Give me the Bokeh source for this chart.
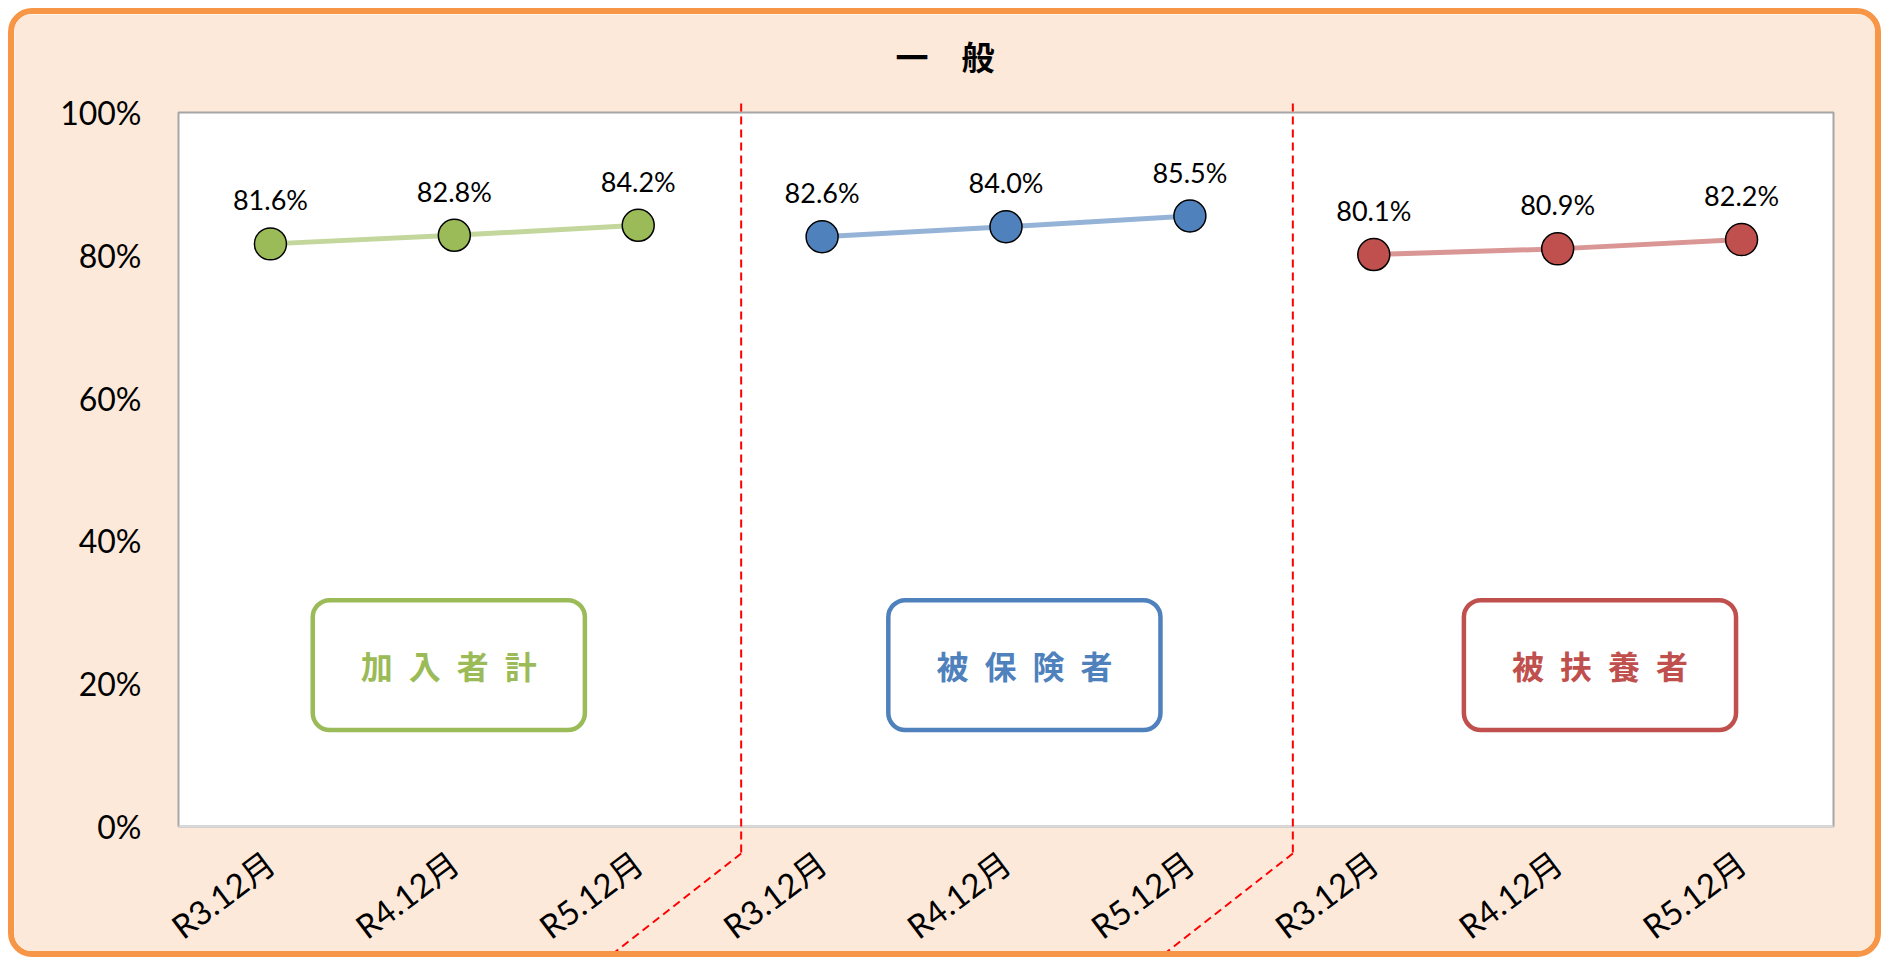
import math
from bokeh.plotting import figure
from bokeh.models import (Range1d, FixedTicker, BoxAnnotation, Label, Arrow,
                          LinearAxis, PrintfTickFormatter)
from bokeh.core.properties import value
from bokeh.embed import file_html
from bokeh.resources import INLINE

# ---------------- data ----------------
chart_title = "一　般"
groups = ["加入者計", "被保険者", "被扶養者"]
months = ["R3.12月", "R4.12月", "R5.12月"]
total_members = [81.6, 82.8, 84.2]      # 加入者計
insured = [82.6, 84.0, 85.5]            # 被保険者
dependents = [80.1, 80.9, 82.2]         # 被扶養者
series = [total_members, insured, dependents]
y_ticks = [0, 20, 40, 60, 80, 100]

# ---------------- style / layout ----------------
marker_colors = ["#9BBB59", "#4F81BD", "#C0504D"]
line_colors = ["#C3D69B", "#95B3D7", "#D99694"]
LATIN = "Lato, 'Noto Sans CJK JP'"
CJK = "'Noto Sans CJK JP'"

n_cat = len(groups) * len(months)
W, H = 1873, 949          # outer box size (border-box)
BORDER = 6
# plot-area placement inside the canvas (pixels)
px_left, px_top = 164, 98
unit_x = 1655 / n_cat     # px per category
unit_y = 714 / 100        # px per percent
x0 = -px_left / unit_x
x1 = x0 + W / unit_x
y1 = 100 + px_top / unit_y
y0 = y1 - H / unit_y

p = figure(width=W, height=H,
           x_range=Range1d(x0, x1), y_range=Range1d(y0, y1),
           x_axis_type=None, y_axis_type=None,
           output_backend="svg", toolbar_location=None,
           min_border=0, min_border_left=0, min_border_right=0,
           min_border_top=0, min_border_bottom=0,
           background_fill_color="#FDE9D9", border_fill_color="#FDE9D9",
           outline_line_color=None)
p.styles = {"border": f"{BORDER}px solid #F79646", "border-radius": "24px",
            "overflow": "hidden", "margin": "8px 0 0 8px"}

# plot area
p.add_layout(BoxAnnotation(left=0, right=n_cat, bottom=0, top=100,
                           fill_color="white", fill_alpha=1.0,
                           line_color="#A6A6A6", line_alpha=1.0, line_width=2,
                           level="underlay"))

# x axis
tick_pos = [i + 0.5 for i in range(n_cat)]
xaxis = LinearAxis(fixed_location=0, bounds=(0, n_cat),
                   ticker=FixedTicker(ticks=tick_pos))
xaxis.major_label_overrides = {t: months[i % len(months)] for i, t in enumerate(tick_pos)}
xaxis.major_label_orientation = math.radians(37)
xaxis.major_label_text_font = LATIN
xaxis.major_label_text_font_size = "33px"
xaxis.major_label_text_color = "black"
xaxis.major_label_standoff = 26
xaxis.axis_line_color = "#D9D9D9"
xaxis.axis_line_width = 2
xaxis.major_tick_line_color = None
xaxis.minor_tick_line_color = None
p.add_layout(xaxis, "below")

# y axis
yaxis = LinearAxis(fixed_location=0, bounds=(0, 100),
                   ticker=FixedTicker(ticks=y_ticks),
                   formatter=PrintfTickFormatter(format="%d%%"))
yaxis.major_label_text_font = LATIN
yaxis.major_label_text_font_size = "32px"
yaxis.major_label_text_color = "black"
yaxis.major_label_standoff = 31
yaxis.axis_line_color = None
yaxis.major_tick_line_color = None
yaxis.minor_tick_line_color = None
p.add_layout(yaxis, "left")

# series
for g, vals in enumerate(series):
    xs = [g * len(months) + j + 0.5 for j in range(len(vals))]
    p.line(xs, vals, line_width=5, line_color=line_colors[g])
    p.scatter(xs, vals, size=32, fill_color=marker_colors[g],
              line_color="black", line_width=1.5)
    p.text(xs, vals, text=[f"{v:.1f}%" for v in vals], y_offset=-44,
           text_align="center", text_baseline="middle",
           text_font=value("Lato"), text_font_size="27px", text_color="black")

# group name boxes
box_centers = [1.47, 4.60, 7.73]
for g, name in enumerate(groups):
    c = box_centers[g]
    p.add_layout(BoxAnnotation(left=c - 0.74, right=c + 0.74, bottom=13.5, top=31.7,
                               fill_color="white", fill_alpha=1.0,
                               line_color=marker_colors[g], line_alpha=1.0,
                               line_width=4.5, border_radius=17))
    p.add_layout(Label(x=c, y=22.6, text="\u2002".join(name),
                       text_align="center", text_baseline="middle",
                       text_font=CJK, text_font_size="32px",
                       text_font_style="bold", text_color=marker_colors[g]))

# dashed separators between groups
sep_top = 100 + 9 / unit_y
sep_break = -27 / unit_y
diag_dx = -128 / unit_x          # horizontal run per 100 px drop
diag_dy = -100 / unit_y
for b in [3, 6]:
    xs0 = b + 11 / unit_x
    p.add_layout(Arrow(x_start=xs0, y_start=sep_top, x_end=xs0, y_end=sep_break,
                       end=None, line_color="#FF0000", line_width=2, line_dash="8 5"))
    k = (y0 - sep_break) / diag_dy
    p.add_layout(Arrow(x_start=xs0, y_start=sep_break,
                       x_end=xs0 + k * diag_dx, y_end=sep_break + k * diag_dy,
                       end=None, line_color="#FF0000", line_width=2, line_dash="8 5"))

# title (centred on the whole box)
p.add_layout(Label(x=x0 + (W / 2 - BORDER) / unit_x, y=y1 - 41 / unit_y,
                   text=chart_title,
                   text_align="center", text_baseline="middle",
                   text_font=CJK, text_font_size="33px", text_font_style="bold",
                   text_color="black"))

open("out.html", "w").write(file_html(p, INLINE))
